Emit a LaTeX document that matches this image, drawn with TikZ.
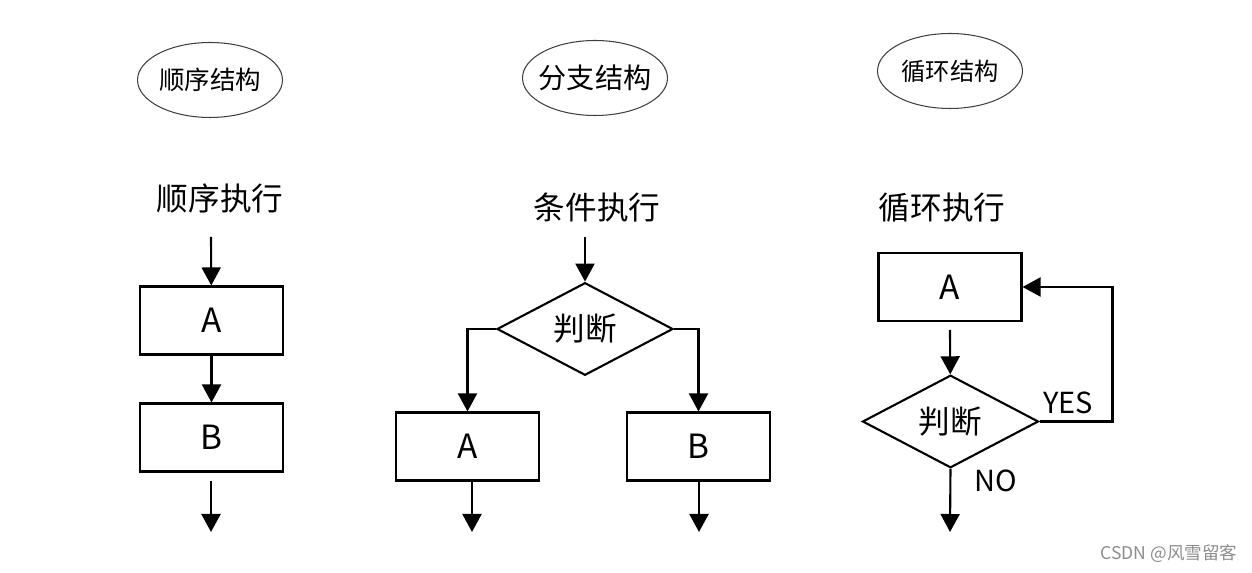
\documentclass[tikz,border=0pt]{standalone}
\usepackage{fontspec}
\setmainfont{Noto Sans CJK SC}
\usetikzlibrary{arrows.meta,shapes.geometric}

\begin{document}
\begin{tikzpicture}[x=0.02cm, y=-0.02cm, >={Triangle[width=0.38cm,length=0.36cm]},
    title/.style={draw=black!75, line width=0.6pt, ellipse, inner xsep=-0.25cm, inner ysep=0pt, minimum width=2.9cm, minimum height=1.5cm},
    heading/.style={font=\fontsize{18}{20}\selectfont},
    box/.style={draw, line width=1.2pt, minimum width=2.86cm, minimum height=1.36cm, inner sep=0pt, font=\fontsize{19}{20}\selectfont},
    test/.style={draw, line width=1.2pt, diamond, inner sep=0pt, minimum width=3.52cm, minimum height=1.64cm, font=\fontsize{18}{20}\selectfont},
    arr/.style={->, line width=1.2pt},
    tag/.style={font=\fontsize{16.5}{18}\selectfont}]
    \useasboundingbox (0,0) rectangle (1252,573);
    % titles
    \node[title, font=\fontsize{14.5}{16}\selectfont] (t1) at (210,80) {顺序结构};
    \node[title, font=\fontsize{16}{18}\selectfont] (t2) at (595,78) {分支结构};
    \node[title, font=\fontsize{13.8}{16}\selectfont] (t3) at (950,71) {循环结构};
    % sequence
    \node[heading] (h1) at (220,198) {顺序执行};
    \coordinate (s1) at (211,237);
    \node[box] (a1) at (211.5,320.5) {A};
    \node[box] (b1) at (211.5,437.5) {B};
    \coordinate (o1) at (211,481);
    \coordinate (e1) at (211,532);
    \draw[arr] (s1) -- (a1);
    \draw[arr] (a1) -- (b1);
    \draw[arr] (o1) -- (e1);
    % branch
    \node[heading] (h2) at (597,208) {条件执行};
    \coordinate (s2) at (585,237);
    \node[test] (d2) at (585,329) {判断};
    \node[box] (a2) at (467.5,446.5) {A};
    \node[box] (b2) at (698.5,446.5) {B};
    \coordinate (oa2) at (472,482);
    \coordinate (ea2) at (472,532);
    \coordinate (ob2) at (699,482);
    \coordinate (eb2) at (699,532);
    \draw[arr] (s2) -- (d2);
    \draw[arr] (d2.west) -| (a2.north);
    \draw[arr] (d2.east) -| (b2.north);
    \draw[arr] (oa2) -- (ea2);
    \draw[arr] (ob2) -- (eb2);
    % loop
    \node[heading] (h3) at (942,208) {循环执行};
    \node[box] (a3) at (950,287) {A};
    \coordinate (o3) at (950,330);
    \node[test] (d3) at (950.5,421.5) {判断};
    \coordinate (e3) at (950,532);
    \draw[arr] (o3) -- (d3);
    \draw[arr] (d3.east) -- ++(73,0) |- (a3.east);
    \draw[arr] (d3.south) -- (e3);
    \node[tag] (yes) at (1068,403) {YES};
    \node[tag] (no) at (996,481) {NO};
    \node[text=black!45, font=\fontsize{10}{12}\selectfont] (wm) at (1169,554) {CSDN @风雪留客};
\end{tikzpicture}
\end{document}
